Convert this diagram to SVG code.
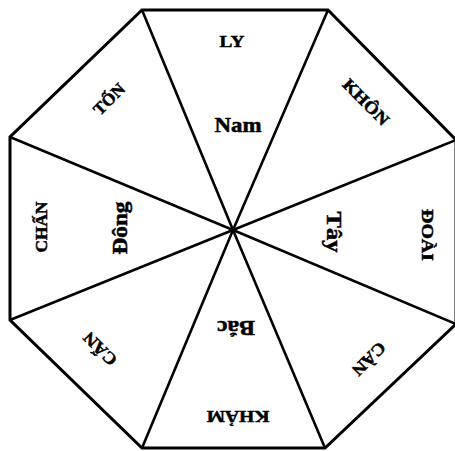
<svg xmlns="http://www.w3.org/2000/svg" width="455" height="451" viewBox="0 0 455 451">
<style>
.edge{fill:none;stroke:#000;stroke-width:3;stroke-linejoin:miter}
.spoke{stroke:#000;stroke-width:2.6}
text{font-family:"Liberation Serif","Times New Roman",serif;font-weight:bold;fill:#000;stroke:#000;stroke-width:0.5;text-anchor:middle}
.outer{font-size:17px}
.inner{font-size:21px}
</style>
<rect width="455" height="451" fill="#fff"/>
<g id="connectors">
<polygon class="edge" points="142,10 328,10 456,140 456,324 325,448 142,448 10,320 10,137"/>
<line class="spoke" x1="233" y1="230" x2="142" y2="10"/>
<line class="spoke" x1="233" y1="230" x2="328" y2="10"/>
<line class="spoke" x1="233" y1="230" x2="456" y2="140"/>
<line class="spoke" x1="233" y1="230" x2="456" y2="324"/>
<line class="spoke" x1="233" y1="230" x2="325" y2="448"/>
<line class="spoke" x1="233" y1="230" x2="142" y2="448"/>
<line class="spoke" x1="233" y1="230" x2="10" y2="320"/>
<line class="spoke" x1="233" y1="230" x2="10" y2="137"/>
</g>
<g id="ly"><text class="outer" transform="translate(232,41)" y="5.8" textLength="25" lengthAdjust="spacingAndGlyphs">LY</text></g>
<g id="nam"><text class="inner" transform="translate(238,125)" y="7.3" textLength="47" lengthAdjust="spacingAndGlyphs">Nam</text></g>
<g id="khon"><text class="outer" transform="translate(366,102) rotate(45)" y="5.8" textLength="58" lengthAdjust="spacingAndGlyphs">KHÔN</text></g>
<g id="ton"><text class="outer" transform="translate(109,99) rotate(-45)" y="5.8" textLength="37" lengthAdjust="spacingAndGlyphs">TỐN</text></g>
<g id="doai"><text class="outer" transform="translate(428,235) rotate(90)" y="5.8" textLength="52" lengthAdjust="spacingAndGlyphs">ĐOÀI</text></g>
<g id="tay"><text class="inner" transform="translate(334,232) rotate(90)" y="7.3" textLength="41" lengthAdjust="spacingAndGlyphs">Tây</text></g>
<g id="chan"><text class="outer" transform="translate(41,227) rotate(-90)" y="5.8" textLength="51" lengthAdjust="spacingAndGlyphs">CHẤN</text></g>
<g id="dong"><text class="inner" transform="translate(120,228) rotate(-90)" y="7.3" textLength="53" lengthAdjust="spacingAndGlyphs">Đông</text></g>
<g id="can-sw"><text class="outer" transform="translate(100,349) rotate(-135)" y="5.8" textLength="40" lengthAdjust="spacingAndGlyphs">CẤN</text></g>
<g id="can-se"><text class="outer" transform="translate(369,359) rotate(135)" y="5.8" textLength="40" lengthAdjust="spacingAndGlyphs">CÀN</text></g>
<g id="kham"><text class="outer" transform="translate(238,417) rotate(180)" y="5.8" textLength="63" lengthAdjust="spacingAndGlyphs">KHẢM</text></g>
<g id="bac"><text class="inner" transform="translate(236,328) rotate(180)" y="7.3" textLength="38" lengthAdjust="spacingAndGlyphs">Bắc</text></g>
</svg>
